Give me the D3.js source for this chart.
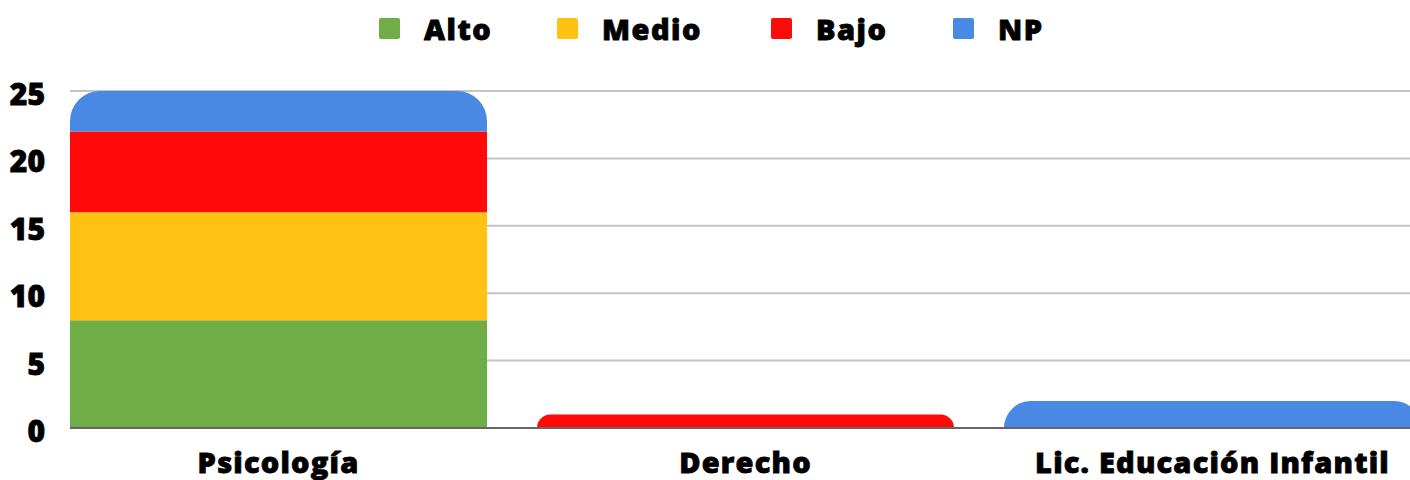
<!DOCTYPE html>
<html>
<head>
<meta charset="utf-8">
<script src="https://cdn.jsdelivr.net/npm/d3@7"></script>
<style>
  body { margin: 0; background: #fff; }
  text { font-family: "Open Sans", sans-serif; font-weight: 800; fill: #000;
         stroke: #000; stroke-width: 0.8px; }
</style>
</head>
<body>
<div id="chart"></div>
<script>
// data
var categories = ["Psicología", "Derecho", "Lic. Educación Infantil"];
var seriesNames = ["Alto", "Medio", "Bajo", "NP"];
var alto  = [8, 0, 0];
var medio = [8, 0, 0];
var bajo  = [6, 1, 0];
var np    = [3, 0, 2];
var yTicks = [0, 5, 10, 15, 20, 25];
var colors = ["#70ad47", "#ffc112", "#ff0909", "#4a89e3"];

var W = 1410, H = 480;

var rows = categories.map(function(c, i) {
  return { cat: c, Alto: alto[i], Medio: medio[i], Bajo: bajo[i], NP: np[i] };
});

var svg = d3.select("#chart").append("svg")
    .attr("width", W)
    .attr("height", H);

// scales
var x = d3.scaleBand()
    .domain(categories)
    .range([70, 1421])
    .paddingInner(0.107)
    .paddingOuter(0);

var y = d3.scaleLinear()
    .domain([0, 25])
    .range([428, 91]);

// gridlines
svg.append("g").selectAll("line")
  .data(yTicks.filter(function(d) { return d > 0; }))
  .enter().append("line")
    .attr("x1", 70).attr("x2", W)
    .attr("y1", d => y(d)).attr("y2", d => y(d))
    .attr("stroke", "#c4c4c4")
    .attr("stroke-width", 2);

// y labels
svg.append("g").selectAll("text")
  .data(yTicks)
  .enter().append("text")
    .attr("x", 45)
    .attr("y", d => y(d) + 14)
    .attr("text-anchor", "end")
    .style("font-size", "30px")
    .text(d => d);

// stacked bars
var stack = d3.stack().keys(seriesNames);
var layers = stack(rows);

// which series is the top one for each category
var topKey = rows.map(function(r) {
  var k = null;
  seriesNames.forEach(function(s) { if (r[s] > 0) k = s; });
  return k;
});

function segPath(x0, w, yTop, yBot, r) {
  r = Math.min(r, yBot - yTop, w / 2);
  return "M" + x0 + "," + yBot +
    "V" + (yTop + r) +
    "A" + r + "," + r + " 0 0 1 " + (x0 + r) + "," + yTop +
    "H" + (x0 + w - r) +
    "A" + r + "," + r + " 0 0 1 " + (x0 + w) + "," + (yTop + r) +
    "V" + yBot + "Z";
}

layers.forEach(function(layer, li) {
  svg.append("g")
    .attr("fill", colors[li])
    .selectAll("path")
    .data(layer.filter(d => d[1] - d[0] > 0))
    .enter().append("path")
      .attr("d", function(d) {
        var cat = d.data.cat;
        var i = categories.indexOf(cat);
        var rad = topKey[i] === layer.key ? 30 : 0;
        return segPath(x(cat), x.bandwidth(), y(d[1]), y(d[0]), rad);
      });
});

// baseline
svg.append("line")
    .attr("x1", 70).attr("x2", W)
    .attr("y1", y(0)).attr("y2", y(0))
    .attr("stroke", "#666")
    .attr("stroke-width", 2);

// x labels
svg.append("g").selectAll("text")
  .data(categories)
  .enter().append("text")
    .attr("x", d => x(d) + x.bandwidth() / 2)
    .attr("y", 473)
    .attr("text-anchor", "middle")
    .style("font-size", "29px")
    .style("letter-spacing", "1.2px")
    .text(d => d);

// legend
var legendX = [379, 557, 771, 953];
var legend = svg.append("g").selectAll("g")
  .data(seriesNames)
  .enter().append("g")
    .attr("transform", (d, i) => "translate(" + legendX[i] + ",0)");

legend.append("rect")
    .attr("x", 0).attr("y", 18)
    .attr("width", 21).attr("height", 21)
    .attr("rx", 2)
    .attr("fill", (d, i) => colors[i]);

legend.append("text")
    .attr("x", 45)
    .attr("y", 40)
    .style("font-size", "29px")
    .style("letter-spacing", "1.5px")
    .text(d => d);
</script>
</body>
</html>
